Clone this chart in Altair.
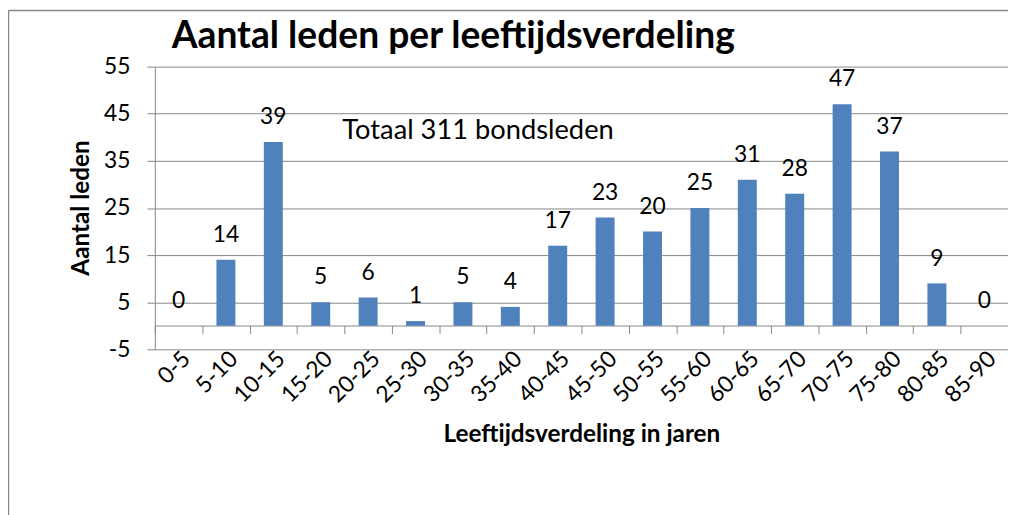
import altair as alt
import pandas as pd

categories = ["0-5", "5-10", "10-15", "15-20", "20-25", "25-30", "30-35", "35-40", "40-45",
              "45-50", "50-55", "55-60", "60-65", "65-70", "70-75", "75-80", "80-85", "85-90"]
members = [0, 14, 39, 5, 6, 1, 5, 4, 17, 23, 20, 25, 31, 28, 47, 37, 9, 0]
y_ticks = [-5, 5, 15, 25, 35, 45, 55]
note_text = ["Totaal 311 bondsleden"]

df = pd.DataFrame({"cat": categories, "n": members})

GRAY = "#878787"
FONT = "Lato"
BLUE = "#4F81BD"

x_enc = alt.X(
    "cat:N", sort=categories,
    scale=alt.Scale(paddingInner=0, paddingOuter=0),
    axis=alt.Axis(
        title="Leeftijdsverdeling in jaren", offset=-24,
        domainColor=GRAY, tickColor=GRAY, tickSize=8, tickBand="extent",
        labelAngle=-45, labelFont=FONT, labelFontSize=23, labelColor="black",
        labelPadding=14, labelOverlap=False, labelFlush=False,
        titleFont=FONT, titleFontSize=24.5, titleFontWeight="bold", titleColor="black",
        titleX=430, titleY=117, titleBaseline="alphabetic", titleAlign="center",
        grid=False,
    ),
)
y_enc = alt.Y(
    "n:Q",
    scale=alt.Scale(domain=[-5, 55], nice=False, zero=False),
    axis=alt.Axis(
        values=y_ticks, labelExpr="'' + datum.value",
        domainColor=GRAY, tickColor=GRAY, tickSize=8,
        grid=True, gridColor=GRAY, gridWidth=1,
        labelFont=FONT, labelFontSize=23, labelColor="black", labelPadding=17,
        title="Aantal leden", titleFont=FONT, titleFontSize=24.5, titleFontWeight="bold",
        titleColor="black", titleAngle=270, titleX=-67, titleY=142,
        titleBaseline="alphabetic", titleAlign="center",
    ),
)

bars = alt.Chart(df).mark_bar(width=alt.RelativeBandSize(0.4), color=BLUE).encode(
    x=x_enc, y=y_enc, y2=alt.datum(0)
)
labels = alt.Chart(df).mark_text(
    dy=-18, baseline="alphabetic", font=FONT, fontSize=23, color="black"
).encode(x=x_enc, y=y_enc, text="n:Q")

note = alt.Chart(pd.DataFrame({"t": note_text})).mark_text(
    align="left", baseline="alphabetic", font=FONT, fontSize=27.5, color="black"
).encode(x=alt.value(189), y=alt.value(73), text="t:N")

frame_df = pd.DataFrame({"b": [0]})
border_left = alt.Chart(frame_df).mark_rule(color=GRAY, strokeWidth=1.5).encode(
    x=alt.value(-147.5), y=alt.value(-56.5), y2=alt.value(460)
)
border_top = alt.Chart(frame_df).mark_rule(color=GRAY, strokeWidth=1.5).encode(
    x=alt.value(-147.5), x2=alt.value(900), y=alt.value(-56.5)
)

chart = alt.layer(border_left, border_top, bars, labels, note).properties(
    width=860, height=285,
    autosize=alt.AutoSizeParams(type="none"),
    padding={"left": 148, "top": 57, "right": 0, "bottom": 175},
    title=alt.TitleParams(
        "Aantal leden per leeftijdsverdeling", anchor="start", frame="group",
        dx=17, dy=86, font=FONT, fontSize=37.5, fontWeight="bold", baseline="alphabetic",
        offset=10, color="black",
    ),
).configure_view(stroke=None)

chart.save("out.html", embed_options={"renderer": "svg", "actions": False})
